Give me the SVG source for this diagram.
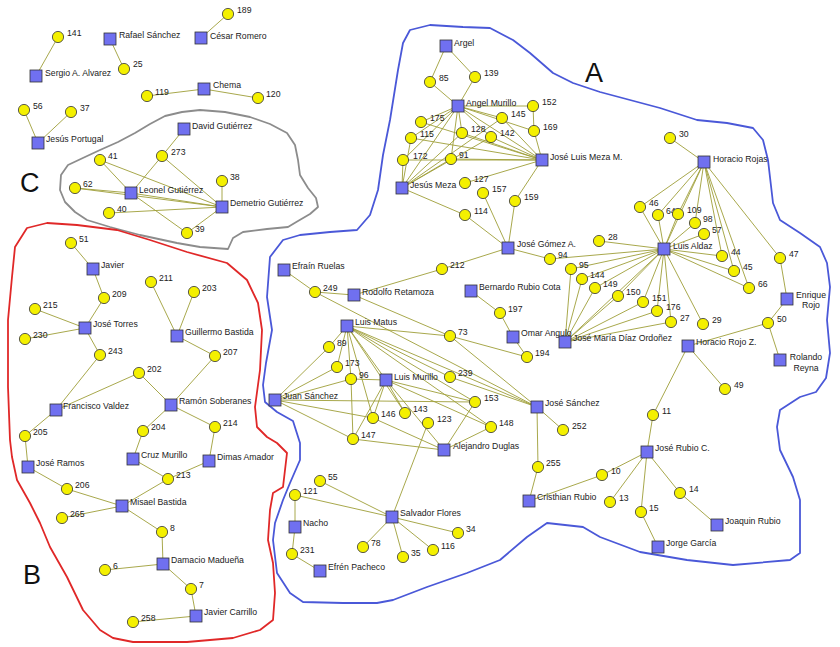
<svg xmlns="http://www.w3.org/2000/svg" width="840" height="647" viewBox="0 0 840 647">
<style>
.bg{fill:#fff}
.reg{fill:none;stroke-width:1.8;stroke-linejoin:round}
.rA{stroke:#4a58d8}.rB{stroke:#e02828}.rC{stroke:#8c8c8c}
.big{font-family:"Liberation Sans",Arial,sans-serif;font-size:27px;fill:#111}
#edges line{stroke:#9e9e38;stroke-width:0.9}
circle{fill:#f4f000;stroke:#333;stroke-width:0.8}
rect.s{fill:#7070f0;stroke:#333;stroke-width:0.8}
text{font-family:"Liberation Sans",Arial,sans-serif;font-size:8.7px;fill:#222}
</style>
<rect class="bg" width="840" height="647"/>
<g id="regions">
<path class="reg rC" d="M61,175 L68,165 L85,157 L100,150 L118,142 L135,133 L150,124 L165,116 L182,112 L200,110 L225,112 L250,117 L270,124 L287,133 L295,145 L298,160 L300,175 L308,188 L316,198 L318,207 L310,214 L298,221 L288,227 L267,229 L243,232 L233,238 L228,249 L200,247 L177,243 L140,235 L110,227 L87,220 L75,212 L65,202 L60,190 Z"/>
<path class="reg rB" d="M27,228 L47,223 L77,225 L117,230 L150,240 L187,252 L227,263 L247,280 L258,303 L262,330 L260,370 L255,407 L257,427 L267,437 L277,443 L287,453 L283,487 L273,493 L270,510 L268,540 L273,563 L275,593 L273,620 L260,630 L233,638 L187,642 L133,642 L113,638 L100,630 L83,610 L67,577 L50,547 L40,523 L30,503 L17,480 L12,457 L10,440 L8,387 L8,320 L12,277 L15,247 Z"/>
<path class="reg rA" d="M383,155 L390,120 L398,70 L403,43 L410,30 L430,25 L463,27 L490,28 L513,40 L530,53 L553,73 L573,83 L600,92 L630,100 L660,108 L697,120 L727,123 L753,128 L763,140 L768,160 L773,203 L780,220 L800,233 L820,247 L827,263 L830,287 L827,320 L830,353 L826,378 L816,392 L800,397 L780,410 L777,427 L780,450 L793,477 L800,500 L800,553 L790,560 L733,565 L687,560 L640,552 L600,537 L583,527 L547,523 L527,537 L500,560 L467,573 L427,587 L393,600 L377,603 L343,603 L303,602 L290,593 L277,573 L273,540 L275,523 L283,500 L290,483 L300,460 L300,443 L293,421 L277,412 L265,402 L263,385 L266,363 L272,330 L267,297 L270,257 L283,240 L300,235 L330,232 L357,230 L370,215 L378,190 Z"/>
<text class="big" x="585" y="82">A</text>
<text class="big" x="23" y="584">B</text>
<text class="big" x="20" y="192">C</text>
</g>
<g id="edges">
<line x1="228" y1="14" x2="201" y2="38"/>
<line x1="58" y1="37" x2="36" y2="76"/>
<line x1="110" y1="39" x2="124" y2="69"/>
<line x1="147" y1="96" x2="204" y2="89"/>
<line x1="204" y1="89" x2="258" y2="98"/>
<line x1="24" y1="110" x2="38" y2="143"/>
<line x1="71" y1="112" x2="38" y2="143"/>
<line x1="184" y1="129" x2="162" y2="156"/>
<line x1="162" y1="156" x2="131" y2="193"/>
<line x1="162" y1="156" x2="222" y2="207"/>
<line x1="100" y1="160" x2="131" y2="193"/>
<line x1="100" y1="160" x2="222" y2="207"/>
<line x1="75" y1="188" x2="131" y2="193"/>
<line x1="75" y1="188" x2="222" y2="207"/>
<line x1="131" y1="193" x2="222" y2="207"/>
<line x1="109" y1="213" x2="222" y2="207"/>
<line x1="131" y1="193" x2="187" y2="233"/>
<line x1="187" y1="233" x2="222" y2="207"/>
<line x1="222" y1="181" x2="222" y2="207"/>
<line x1="71" y1="243" x2="93" y2="269"/>
<line x1="93" y1="269" x2="104" y2="298"/>
<line x1="104" y1="298" x2="85" y2="328"/>
<line x1="35" y1="309" x2="85" y2="328"/>
<line x1="25" y1="339" x2="85" y2="328"/>
<line x1="85" y1="328" x2="100" y2="355"/>
<line x1="100" y1="355" x2="56" y2="410"/>
<line x1="56" y1="410" x2="139" y2="373"/>
<line x1="139" y1="373" x2="171" y2="405"/>
<line x1="151" y1="282" x2="177" y2="336"/>
<line x1="194" y1="292" x2="177" y2="336"/>
<line x1="177" y1="336" x2="215" y2="356"/>
<line x1="215" y1="356" x2="171" y2="405"/>
<line x1="171" y1="405" x2="143" y2="431"/>
<line x1="171" y1="405" x2="215" y2="427"/>
<line x1="56" y1="410" x2="25" y2="436"/>
<line x1="25" y1="436" x2="28" y2="467"/>
<line x1="143" y1="431" x2="133" y2="459"/>
<line x1="215" y1="427" x2="209" y2="461"/>
<line x1="133" y1="459" x2="168" y2="479"/>
<line x1="209" y1="461" x2="168" y2="479"/>
<line x1="168" y1="479" x2="122" y2="506"/>
<line x1="28" y1="467" x2="67" y2="489"/>
<line x1="67" y1="489" x2="122" y2="506"/>
<line x1="62" y1="518" x2="122" y2="506"/>
<line x1="122" y1="506" x2="162" y2="532"/>
<line x1="162" y1="532" x2="163" y2="564"/>
<line x1="105" y1="570" x2="163" y2="564"/>
<line x1="163" y1="564" x2="191" y2="589"/>
<line x1="191" y1="589" x2="196" y2="616"/>
<line x1="133" y1="622" x2="196" y2="616"/>
<line x1="446" y1="46" x2="430" y2="82"/>
<line x1="446" y1="46" x2="475" y2="77"/>
<line x1="430" y1="82" x2="458" y2="106"/>
<line x1="475" y1="77" x2="458" y2="106"/>
<line x1="458" y1="106" x2="533" y2="106"/>
<line x1="458" y1="106" x2="502" y2="118"/>
<line x1="458" y1="106" x2="534" y2="131"/>
<line x1="458" y1="106" x2="542" y2="160"/>
<line x1="458" y1="106" x2="421" y2="122"/>
<line x1="458" y1="106" x2="411" y2="138"/>
<line x1="458" y1="106" x2="462" y2="133"/>
<line x1="458" y1="106" x2="491" y2="137"/>
<line x1="458" y1="106" x2="451" y2="159"/>
<line x1="458" y1="106" x2="402" y2="188"/>
<line x1="458" y1="106" x2="403" y2="160"/>
<line x1="533" y1="106" x2="534" y2="131"/>
<line x1="534" y1="131" x2="542" y2="160"/>
<line x1="502" y1="118" x2="542" y2="160"/>
<line x1="462" y1="133" x2="542" y2="160"/>
<line x1="491" y1="137" x2="542" y2="160"/>
<line x1="421" y1="122" x2="542" y2="160"/>
<line x1="411" y1="138" x2="542" y2="160"/>
<line x1="403" y1="160" x2="542" y2="160"/>
<line x1="451" y1="159" x2="542" y2="160"/>
<line x1="402" y1="188" x2="403" y2="160"/>
<line x1="402" y1="188" x2="411" y2="138"/>
<line x1="402" y1="188" x2="451" y2="159"/>
<line x1="402" y1="188" x2="462" y2="133"/>
<line x1="402" y1="188" x2="491" y2="137"/>
<line x1="402" y1="188" x2="502" y2="118"/>
<line x1="402" y1="188" x2="465" y2="215"/>
<line x1="465" y1="183" x2="542" y2="160"/>
<line x1="515" y1="201" x2="542" y2="160"/>
<line x1="483" y1="193" x2="508" y2="248"/>
<line x1="515" y1="201" x2="508" y2="248"/>
<line x1="465" y1="215" x2="508" y2="248"/>
<line x1="508" y1="248" x2="442" y2="269"/>
<line x1="508" y1="248" x2="550" y2="259"/>
<line x1="550" y1="259" x2="664" y2="249"/>
<line x1="442" y1="269" x2="354" y2="295"/>
<line x1="664" y1="249" x2="599" y2="241"/>
<line x1="664" y1="249" x2="571" y2="269"/>
<line x1="664" y1="249" x2="582" y2="279"/>
<line x1="664" y1="249" x2="595" y2="288"/>
<line x1="664" y1="249" x2="618" y2="296"/>
<line x1="664" y1="249" x2="643" y2="302"/>
<line x1="664" y1="249" x2="657" y2="311"/>
<line x1="664" y1="249" x2="671" y2="322"/>
<line x1="664" y1="249" x2="565" y2="342"/>
<line x1="664" y1="249" x2="703" y2="324"/>
<line x1="664" y1="249" x2="640" y2="207"/>
<line x1="664" y1="249" x2="658" y2="215"/>
<line x1="664" y1="249" x2="678" y2="214"/>
<line x1="664" y1="249" x2="695" y2="223"/>
<line x1="664" y1="249" x2="704" y2="234"/>
<line x1="664" y1="249" x2="722" y2="256"/>
<line x1="664" y1="249" x2="734" y2="271"/>
<line x1="664" y1="249" x2="749" y2="288"/>
<line x1="664" y1="249" x2="704" y2="162"/>
<line x1="565" y1="342" x2="571" y2="269"/>
<line x1="565" y1="342" x2="582" y2="279"/>
<line x1="565" y1="342" x2="595" y2="288"/>
<line x1="565" y1="342" x2="618" y2="296"/>
<line x1="565" y1="342" x2="643" y2="302"/>
<line x1="565" y1="342" x2="657" y2="311"/>
<line x1="565" y1="342" x2="671" y2="322"/>
<line x1="704" y1="162" x2="670" y2="138"/>
<line x1="704" y1="162" x2="640" y2="207"/>
<line x1="704" y1="162" x2="658" y2="215"/>
<line x1="704" y1="162" x2="678" y2="214"/>
<line x1="704" y1="162" x2="695" y2="223"/>
<line x1="704" y1="162" x2="722" y2="256"/>
<line x1="704" y1="162" x2="734" y2="271"/>
<line x1="704" y1="162" x2="749" y2="288"/>
<line x1="704" y1="162" x2="780" y2="258"/>
<line x1="780" y1="258" x2="787" y2="299"/>
<line x1="787" y1="299" x2="768" y2="323"/>
<line x1="768" y1="323" x2="780" y2="360"/>
<line x1="768" y1="323" x2="688" y2="346"/>
<line x1="688" y1="346" x2="653" y2="415"/>
<line x1="688" y1="346" x2="725" y2="389"/>
<line x1="653" y1="415" x2="647" y2="452"/>
<line x1="647" y1="452" x2="602" y2="475"/>
<line x1="647" y1="452" x2="610" y2="502"/>
<line x1="647" y1="452" x2="641" y2="512"/>
<line x1="647" y1="452" x2="680" y2="493"/>
<line x1="602" y1="475" x2="529" y2="501"/>
<line x1="641" y1="512" x2="658" y2="547"/>
<line x1="680" y1="493" x2="717" y2="525"/>
<line x1="284" y1="270" x2="315" y2="292"/>
<line x1="315" y1="292" x2="354" y2="295"/>
<line x1="315" y1="292" x2="537" y2="407"/>
<line x1="354" y1="295" x2="450" y2="336"/>
<line x1="347" y1="326" x2="450" y2="336"/>
<line x1="450" y1="336" x2="527" y2="357"/>
<line x1="450" y1="336" x2="537" y2="407"/>
<line x1="471" y1="291" x2="500" y2="313"/>
<line x1="500" y1="313" x2="513" y2="337"/>
<line x1="513" y1="337" x2="527" y2="357"/>
<line x1="347" y1="326" x2="329" y2="347"/>
<line x1="347" y1="326" x2="337" y2="367"/>
<line x1="347" y1="326" x2="351" y2="379"/>
<line x1="347" y1="326" x2="386" y2="380"/>
<line x1="347" y1="326" x2="373" y2="418"/>
<line x1="347" y1="326" x2="405" y2="413"/>
<line x1="347" y1="326" x2="450" y2="377"/>
<line x1="347" y1="326" x2="475" y2="402"/>
<line x1="347" y1="326" x2="491" y2="427"/>
<line x1="347" y1="326" x2="537" y2="407"/>
<line x1="450" y1="377" x2="537" y2="407"/>
<line x1="275" y1="400" x2="329" y2="347"/>
<line x1="275" y1="400" x2="337" y2="367"/>
<line x1="275" y1="400" x2="351" y2="379"/>
<line x1="275" y1="400" x2="373" y2="418"/>
<line x1="275" y1="400" x2="353" y2="439"/>
<line x1="275" y1="400" x2="475" y2="402"/>
<line x1="351" y1="379" x2="386" y2="380"/>
<line x1="351" y1="379" x2="353" y2="439"/>
<line x1="386" y1="380" x2="373" y2="418"/>
<line x1="386" y1="380" x2="353" y2="439"/>
<line x1="386" y1="380" x2="405" y2="413"/>
<line x1="386" y1="380" x2="475" y2="402"/>
<line x1="386" y1="380" x2="491" y2="427"/>
<line x1="386" y1="380" x2="444" y2="450"/>
<line x1="373" y1="418" x2="444" y2="450"/>
<line x1="353" y1="439" x2="444" y2="450"/>
<line x1="475" y1="402" x2="444" y2="450"/>
<line x1="491" y1="427" x2="444" y2="450"/>
<line x1="428" y1="423" x2="392" y2="517"/>
<line x1="537" y1="407" x2="563" y2="430"/>
<line x1="537" y1="407" x2="538" y2="467"/>
<line x1="538" y1="467" x2="529" y2="501"/>
<line x1="392" y1="517" x2="320" y2="481"/>
<line x1="392" y1="517" x2="295" y2="495"/>
<line x1="392" y1="517" x2="363" y2="547"/>
<line x1="392" y1="517" x2="403" y2="557"/>
<line x1="392" y1="517" x2="433" y2="550"/>
<line x1="392" y1="517" x2="458" y2="533"/>
<line x1="295" y1="495" x2="295" y2="527"/>
<line x1="295" y1="527" x2="292" y2="554"/>
<line x1="292" y1="554" x2="320" y2="571"/>
</g>
<g id="nodes">
<g id="n189"><circle cx="228" cy="14" r="5.6"/><text x="237" y="13">189</text></g>
<g id="nCesarRomero"><rect class="s" x="195" y="32" width="12" height="12"/><text x="210" y="39">César Romero</text></g>
<g id="n141"><circle cx="58" cy="37" r="5.6"/><text x="67" y="36">141</text></g>
<g id="nRafaelSanchez"><rect class="s" x="104" y="33" width="12" height="12"/><text x="119" y="38">Rafael Sánchez</text></g>
<g id="n25"><circle cx="124" cy="69" r="5.6"/><text x="133" y="67">25</text></g>
<g id="nSergioAlvarez"><rect class="s" x="30" y="70" width="12" height="12"/><text x="45" y="76">Sergio A. Alvarez</text></g>
<g id="nChema"><rect class="s" x="198" y="83" width="12" height="12"/><text x="213" y="88">Chema</text></g>
<g id="n119"><circle cx="147" cy="96" r="5.6"/><text x="155" y="95">119</text></g>
<g id="n120"><circle cx="258" cy="98" r="5.6"/><text x="266" y="97">120</text></g>
<g id="n56"><circle cx="24" cy="110" r="5.6"/><text x="33" y="109">56</text></g>
<g id="n37"><circle cx="71" cy="112" r="5.6"/><text x="80" y="111">37</text></g>
<g id="nJesusPortugal"><rect class="s" x="32" y="137" width="12" height="12"/><text x="46" y="142">Jesús Portugal</text></g>
<g id="nDavidGutierrez"><rect class="s" x="178" y="123" width="12" height="12"/><text x="192" y="129">David Gutiérrez</text></g>
<g id="n273"><circle cx="162" cy="156" r="5.6"/><text x="171" y="155">273</text></g>
<g id="n41"><circle cx="100" cy="160" r="5.6"/><text x="108" y="159">41</text></g>
<g id="n38"><circle cx="222" cy="181" r="5.6"/><text x="230" y="180">38</text></g>
<g id="n62"><circle cx="75" cy="188" r="5.6"/><text x="83" y="187">62</text></g>
<g id="nLeonelGutierrez"><rect class="s" x="125" y="187" width="12" height="12"/><text x="139" y="193">Leonel Gutiérrez</text></g>
<g id="nDemetrioGutierrez"><rect class="s" x="216" y="201" width="12" height="12"/><text x="230" y="206">Demetrio Gutiérrez</text></g>
<g id="n40"><circle cx="109" cy="213" r="5.6"/><text x="117" y="212">40</text></g>
<g id="n39"><circle cx="187" cy="233" r="5.6"/><text x="195" y="232">39</text></g>
<g id="n51"><circle cx="71" cy="243" r="5.6"/><text x="79" y="242">51</text></g>
<g id="nJavier"><rect class="s" x="87" y="263" width="12" height="12"/><text x="101" y="268">Javier</text></g>
<g id="n209"><circle cx="104" cy="298" r="5.6"/><text x="112" y="297">209</text></g>
<g id="n215"><circle cx="35" cy="309" r="5.6"/><text x="43" y="308">215</text></g>
<g id="n230"><circle cx="25" cy="339" r="5.6"/><text x="33" y="338">230</text></g>
<g id="nJoseTorres"><rect class="s" x="79" y="322" width="12" height="12"/><text x="93" y="327">José Torres</text></g>
<g id="n211"><circle cx="151" cy="282" r="5.6"/><text x="159" y="281">211</text></g>
<g id="n203"><circle cx="194" cy="292" r="5.6"/><text x="202" y="291">203</text></g>
<g id="nGuillermoBastida"><rect class="s" x="171" y="330" width="12" height="12"/><text x="185" y="335">Guillermo Bastida</text></g>
<g id="n243"><circle cx="100" cy="355" r="5.6"/><text x="108" y="354">243</text></g>
<g id="n207"><circle cx="215" cy="356" r="5.6"/><text x="223" y="355">207</text></g>
<g id="n202"><circle cx="139" cy="373" r="5.6"/><text x="147" y="372">202</text></g>
<g id="nFranciscoValdez"><rect class="s" x="50" y="404" width="12" height="12"/><text x="63" y="409">Francisco Valdez</text></g>
<g id="nRamonSoberanes"><rect class="s" x="165" y="399" width="12" height="12"/><text x="179" y="404">Ramón Soberanes</text></g>
<g id="n204"><circle cx="143" cy="431" r="5.6"/><text x="151" y="430">204</text></g>
<g id="n214"><circle cx="215" cy="427" r="5.6"/><text x="223" y="426">214</text></g>
<g id="n205"><circle cx="25" cy="436" r="5.6"/><text x="33" y="435">205</text></g>
<g id="nJoseRamos"><rect class="s" x="22" y="461" width="12" height="12"/><text x="36" y="466">José Ramos</text></g>
<g id="nCruzMurillo"><rect class="s" x="127" y="453" width="12" height="12"/><text x="141" y="458">Cruz Murillo</text></g>
<g id="nDimasAmador"><rect class="s" x="203" y="455" width="12" height="12"/><text x="217" y="460">Dimas Amador</text></g>
<g id="n213"><circle cx="168" cy="479" r="5.6"/><text x="176" y="478">213</text></g>
<g id="n206"><circle cx="67" cy="489" r="5.6"/><text x="75" y="488">206</text></g>
<g id="nMisaelBastida"><rect class="s" x="116" y="500" width="12" height="12"/><text x="130" y="505">Misael Bastida</text></g>
<g id="n265"><circle cx="62" cy="518" r="5.6"/><text x="70" y="517">265</text></g>
<g id="n8"><circle cx="162" cy="532" r="5.6"/><text x="170" y="531">8</text></g>
<g id="nDamacioMaduena"><rect class="s" x="157" y="558" width="12" height="12"/><text x="171" y="563">Damacio Madueña</text></g>
<g id="n6"><circle cx="105" cy="570" r="5.6"/><text x="113" y="569">6</text></g>
<g id="n7"><circle cx="191" cy="589" r="5.6"/><text x="199" y="588">7</text></g>
<g id="nJavierCarrillo"><rect class="s" x="190" y="610" width="12" height="12"/><text x="204" y="615">Javier Carrillo</text></g>
<g id="n258"><circle cx="133" cy="622" r="5.6"/><text x="141" y="621">258</text></g>
<g id="nArgel"><rect class="s" x="440" y="40" width="12" height="12"/><text x="454" y="46">Argel</text></g>
<g id="n85"><circle cx="430" cy="82" r="5.6"/><text x="439" y="81">85</text></g>
<g id="n139"><circle cx="475" cy="77" r="5.6"/><text x="484" y="76">139</text></g>
<g id="nAngelMurillo"><rect class="s" x="452" y="100" width="12" height="12"/><text x="466" y="106">Angel Murillo</text></g>
<g id="n152"><circle cx="533" cy="106" r="5.6"/><text x="542" y="105">152</text></g>
<g id="n145"><circle cx="502" cy="118" r="5.6"/><text x="511" y="117">145</text></g>
<g id="n175"><circle cx="421" cy="122" r="5.6"/><text x="430" y="121">175</text></g>
<g id="n169"><circle cx="534" cy="131" r="5.6"/><text x="543" y="130">169</text></g>
<g id="n128"><circle cx="462" cy="133" r="5.6"/><text x="471" y="132">128</text></g>
<g id="n142"><circle cx="491" cy="137" r="5.6"/><text x="500" y="136">142</text></g>
<g id="n115"><circle cx="411" cy="138" r="5.6"/><text x="420" y="137">115</text></g>
<g id="n172"><circle cx="403" cy="160" r="5.6"/><text x="413" y="159">172</text></g>
<g id="n91"><circle cx="451" cy="159" r="5.6"/><text x="459" y="158">91</text></g>
<g id="nJoseLuisMeza"><rect class="s" x="536" y="154" width="12" height="12"/><text x="550" y="160">José Luis Meza M.</text></g>
<g id="nJesusMeza"><rect class="s" x="396" y="182" width="12" height="12"/><text x="410" y="188">Jesús Meza</text></g>
<g id="n127"><circle cx="465" cy="183" r="5.6"/><text x="474" y="182">127</text></g>
<g id="n157"><circle cx="483" cy="193" r="5.6"/><text x="492" y="192">157</text></g>
<g id="n159"><circle cx="515" cy="201" r="5.6"/><text x="524" y="200">159</text></g>
<g id="n114"><circle cx="465" cy="215" r="5.6"/><text x="474" y="214">114</text></g>
<g id="nJoseGomez"><rect class="s" x="502" y="242" width="12" height="12"/><text x="517" y="247">José Gómez A.</text></g>
<g id="n212"><circle cx="442" cy="269" r="5.6"/><text x="450" y="268">212</text></g>
<g id="n94"><circle cx="550" cy="259" r="5.6"/><text x="558" y="258">94</text></g>
<g id="n28"><circle cx="599" cy="241" r="5.6"/><text x="608" y="240">28</text></g>
<g id="n95"><circle cx="571" cy="269" r="5.6"/><text x="579" y="268">95</text></g>
<g id="n144"><circle cx="582" cy="279" r="5.6"/><text x="590" y="278">144</text></g>
<g id="n149"><circle cx="595" cy="288" r="5.6"/><text x="603" y="287">149</text></g>
<g id="n150"><circle cx="618" cy="296" r="5.6"/><text x="626" y="295">150</text></g>
<g id="nBernardoRubioCota"><rect class="s" x="465" y="285" width="12" height="12"/><text x="479" y="290">Bernardo Rubio Cota</text></g>
<g id="n197"><circle cx="500" cy="313" r="5.6"/><text x="508" y="312">197</text></g>
<g id="nOmarAngulo"><rect class="s" x="507" y="331" width="12" height="12"/><text x="521" y="336">Omar Angulo</text></g>
<g id="nJoseMariaDiazOrdonez"><rect class="s" x="559" y="336" width="12" height="12"/><text x="573" y="341">José María Díaz Ordoñez</text></g>
<g id="n30"><circle cx="670" cy="138" r="5.6"/><text x="679" y="137">30</text></g>
<g id="nHoracioRojas"><rect class="s" x="698" y="156" width="12" height="12"/><text x="713" y="162">Horacio Rojas</text></g>
<g id="n46"><circle cx="640" cy="207" r="5.6"/><text x="649" y="206">46</text></g>
<g id="n64"><circle cx="658" cy="215" r="5.6"/><text x="666" y="214">64</text></g>
<g id="n109"><circle cx="678" cy="214" r="5.6"/><text x="687" y="213">109</text></g>
<g id="n98"><circle cx="695" cy="223" r="5.6"/><text x="703" y="222">98</text></g>
<g id="n57"><circle cx="704" cy="234" r="5.6"/><text x="712" y="233">57</text></g>
<g id="nLuisAldaz"><rect class="s" x="658" y="243" width="12" height="12"/><text x="673" y="249">Luis Aldaz</text></g>
<g id="n44"><circle cx="722" cy="256" r="5.6"/><text x="731" y="255">44</text></g>
<g id="n45"><circle cx="734" cy="271" r="5.6"/><text x="743" y="270">45</text></g>
<g id="n66"><circle cx="749" cy="288" r="5.6"/><text x="758" y="287">66</text></g>
<g id="n47"><circle cx="780" cy="258" r="5.6"/><text x="789" y="257">47</text></g>
<g id="nEnriqueRojo"><rect class="s" x="781" y="293" width="12" height="12"/><text x="811" y="298" text-anchor="middle">Enrique</text><text x="811" y="308" text-anchor="middle">Rojo</text></g>
<g id="n50"><circle cx="768" cy="323" r="5.6"/><text x="777" y="322">50</text></g>
<g id="nRolandoReyna"><rect class="s" x="774" y="354" width="12" height="12"/><text x="806" y="360" text-anchor="middle">Rolando</text><text x="806" y="371" text-anchor="middle">Reyna</text></g>
<g id="n151"><circle cx="643" cy="302" r="5.6"/><text x="652" y="301">151</text></g>
<g id="n176"><circle cx="657" cy="311" r="5.6"/><text x="666" y="310">176</text></g>
<g id="n27"><circle cx="671" cy="322" r="5.6"/><text x="680" y="321">27</text></g>
<g id="n29"><circle cx="703" cy="324" r="5.6"/><text x="712" y="323">29</text></g>
<g id="nHoracioRojoZ"><rect class="s" x="682" y="340" width="12" height="12"/><text x="696" y="345">Horacio Rojo Z.</text></g>
<g id="n49"><circle cx="725" cy="389" r="5.6"/><text x="734" y="388">49</text></g>
<g id="nJoseSanchez"><rect class="s" x="531" y="401" width="12" height="12"/><text x="545" y="406">José Sánchez</text></g>
<g id="n252"><circle cx="563" cy="430" r="5.6"/><text x="572" y="429">252</text></g>
<g id="n255"><circle cx="538" cy="467" r="5.6"/><text x="546" y="466">255</text></g>
<g id="nCristhianRubio"><rect class="s" x="523" y="495" width="12" height="12"/><text x="537" y="500">Cristhian Rubio</text></g>
<g id="n11"><circle cx="653" cy="415" r="5.6"/><text x="662" y="414">11</text></g>
<g id="nJoseRubioC"><rect class="s" x="641" y="446" width="12" height="12"/><text x="655" y="451">José Rubio C.</text></g>
<g id="n10"><circle cx="602" cy="475" r="5.6"/><text x="611" y="474">10</text></g>
<g id="n13"><circle cx="610" cy="502" r="5.6"/><text x="619" y="501">13</text></g>
<g id="n15"><circle cx="641" cy="512" r="5.6"/><text x="649" y="511">15</text></g>
<g id="n14"><circle cx="680" cy="493" r="5.6"/><text x="689" y="492">14</text></g>
<g id="nJoaquinRubio"><rect class="s" x="711" y="519" width="12" height="12"/><text x="725" y="524">Joaquin Rubio</text></g>
<g id="nJorgeGarcia"><rect class="s" x="652" y="541" width="12" height="12"/><text x="666" y="546">Jorge García</text></g>
<g id="nEfrainRuelas"><rect class="s" x="278" y="264" width="12" height="12"/><text x="292" y="269">Efraín Ruelas</text></g>
<g id="n249"><circle cx="315" cy="292" r="5.6"/><text x="323" y="291">249</text></g>
<g id="nRodolfoRetamoza"><rect class="s" x="348" y="289" width="12" height="12"/><text x="362" y="295">Rodolfo Retamoza</text></g>
<g id="nLuisMatus"><rect class="s" x="341" y="320" width="12" height="12"/><text x="355" y="325">Luis Matus</text></g>
<g id="n73"><circle cx="450" cy="336" r="5.6"/><text x="458" y="335">73</text></g>
<g id="n194"><circle cx="527" cy="357" r="5.6"/><text x="535" y="356">194</text></g>
<g id="n89"><circle cx="329" cy="347" r="5.6"/><text x="337" y="346">89</text></g>
<g id="n173"><circle cx="337" cy="367" r="5.6"/><text x="345" y="366">173</text></g>
<g id="n96"><circle cx="351" cy="379" r="5.6"/><text x="359" y="378">96</text></g>
<g id="nLuisMurillo"><rect class="s" x="380" y="374" width="12" height="12"/><text x="394" y="380">Luis Murillo</text></g>
<g id="n239"><circle cx="450" cy="377" r="5.6"/><text x="458" y="376">239</text></g>
<g id="nJuanSanchez"><rect class="s" x="269" y="394" width="12" height="12"/><text x="283" y="399">Juan Sánchez</text></g>
<g id="n153"><circle cx="475" cy="402" r="5.6"/><text x="484" y="401">153</text></g>
<g id="n146"><circle cx="373" cy="418" r="5.6"/><text x="381" y="417">146</text></g>
<g id="n143"><circle cx="405" cy="413" r="5.6"/><text x="413" y="412">143</text></g>
<g id="n123"><circle cx="428" cy="423" r="5.6"/><text x="437" y="422">123</text></g>
<g id="n148"><circle cx="491" cy="427" r="5.6"/><text x="499" y="426">148</text></g>
<g id="n147"><circle cx="353" cy="439" r="5.6"/><text x="361" y="438">147</text></g>
<g id="nAlejandroDuglas"><rect class="s" x="438" y="444" width="12" height="12"/><text x="453" y="449">Alejandro Duglas</text></g>
<g id="n55"><circle cx="320" cy="481" r="5.6"/><text x="328" y="480">55</text></g>
<g id="n121"><circle cx="295" cy="495" r="5.6"/><text x="303" y="494">121</text></g>
<g id="nNacho"><rect class="s" x="289" y="521" width="12" height="12"/><text x="303" y="526">Nacho</text></g>
<g id="nSalvadorFlores"><rect class="s" x="386" y="511" width="12" height="12"/><text x="400" y="516">Salvador Flores</text></g>
<g id="n34"><circle cx="458" cy="533" r="5.6"/><text x="466" y="532">34</text></g>
<g id="n78"><circle cx="363" cy="547" r="5.6"/><text x="371" y="546">78</text></g>
<g id="n116"><circle cx="433" cy="550" r="5.6"/><text x="441" y="549">116</text></g>
<g id="n35"><circle cx="403" cy="557" r="5.6"/><text x="411" y="556">35</text></g>
<g id="n231"><circle cx="292" cy="554" r="5.6"/><text x="300" y="553">231</text></g>
<g id="nEfrenPacheco"><rect class="s" x="314" y="565" width="12" height="12"/><text x="328" y="570">Efrén Pacheco</text></g>
</g>
</svg>
